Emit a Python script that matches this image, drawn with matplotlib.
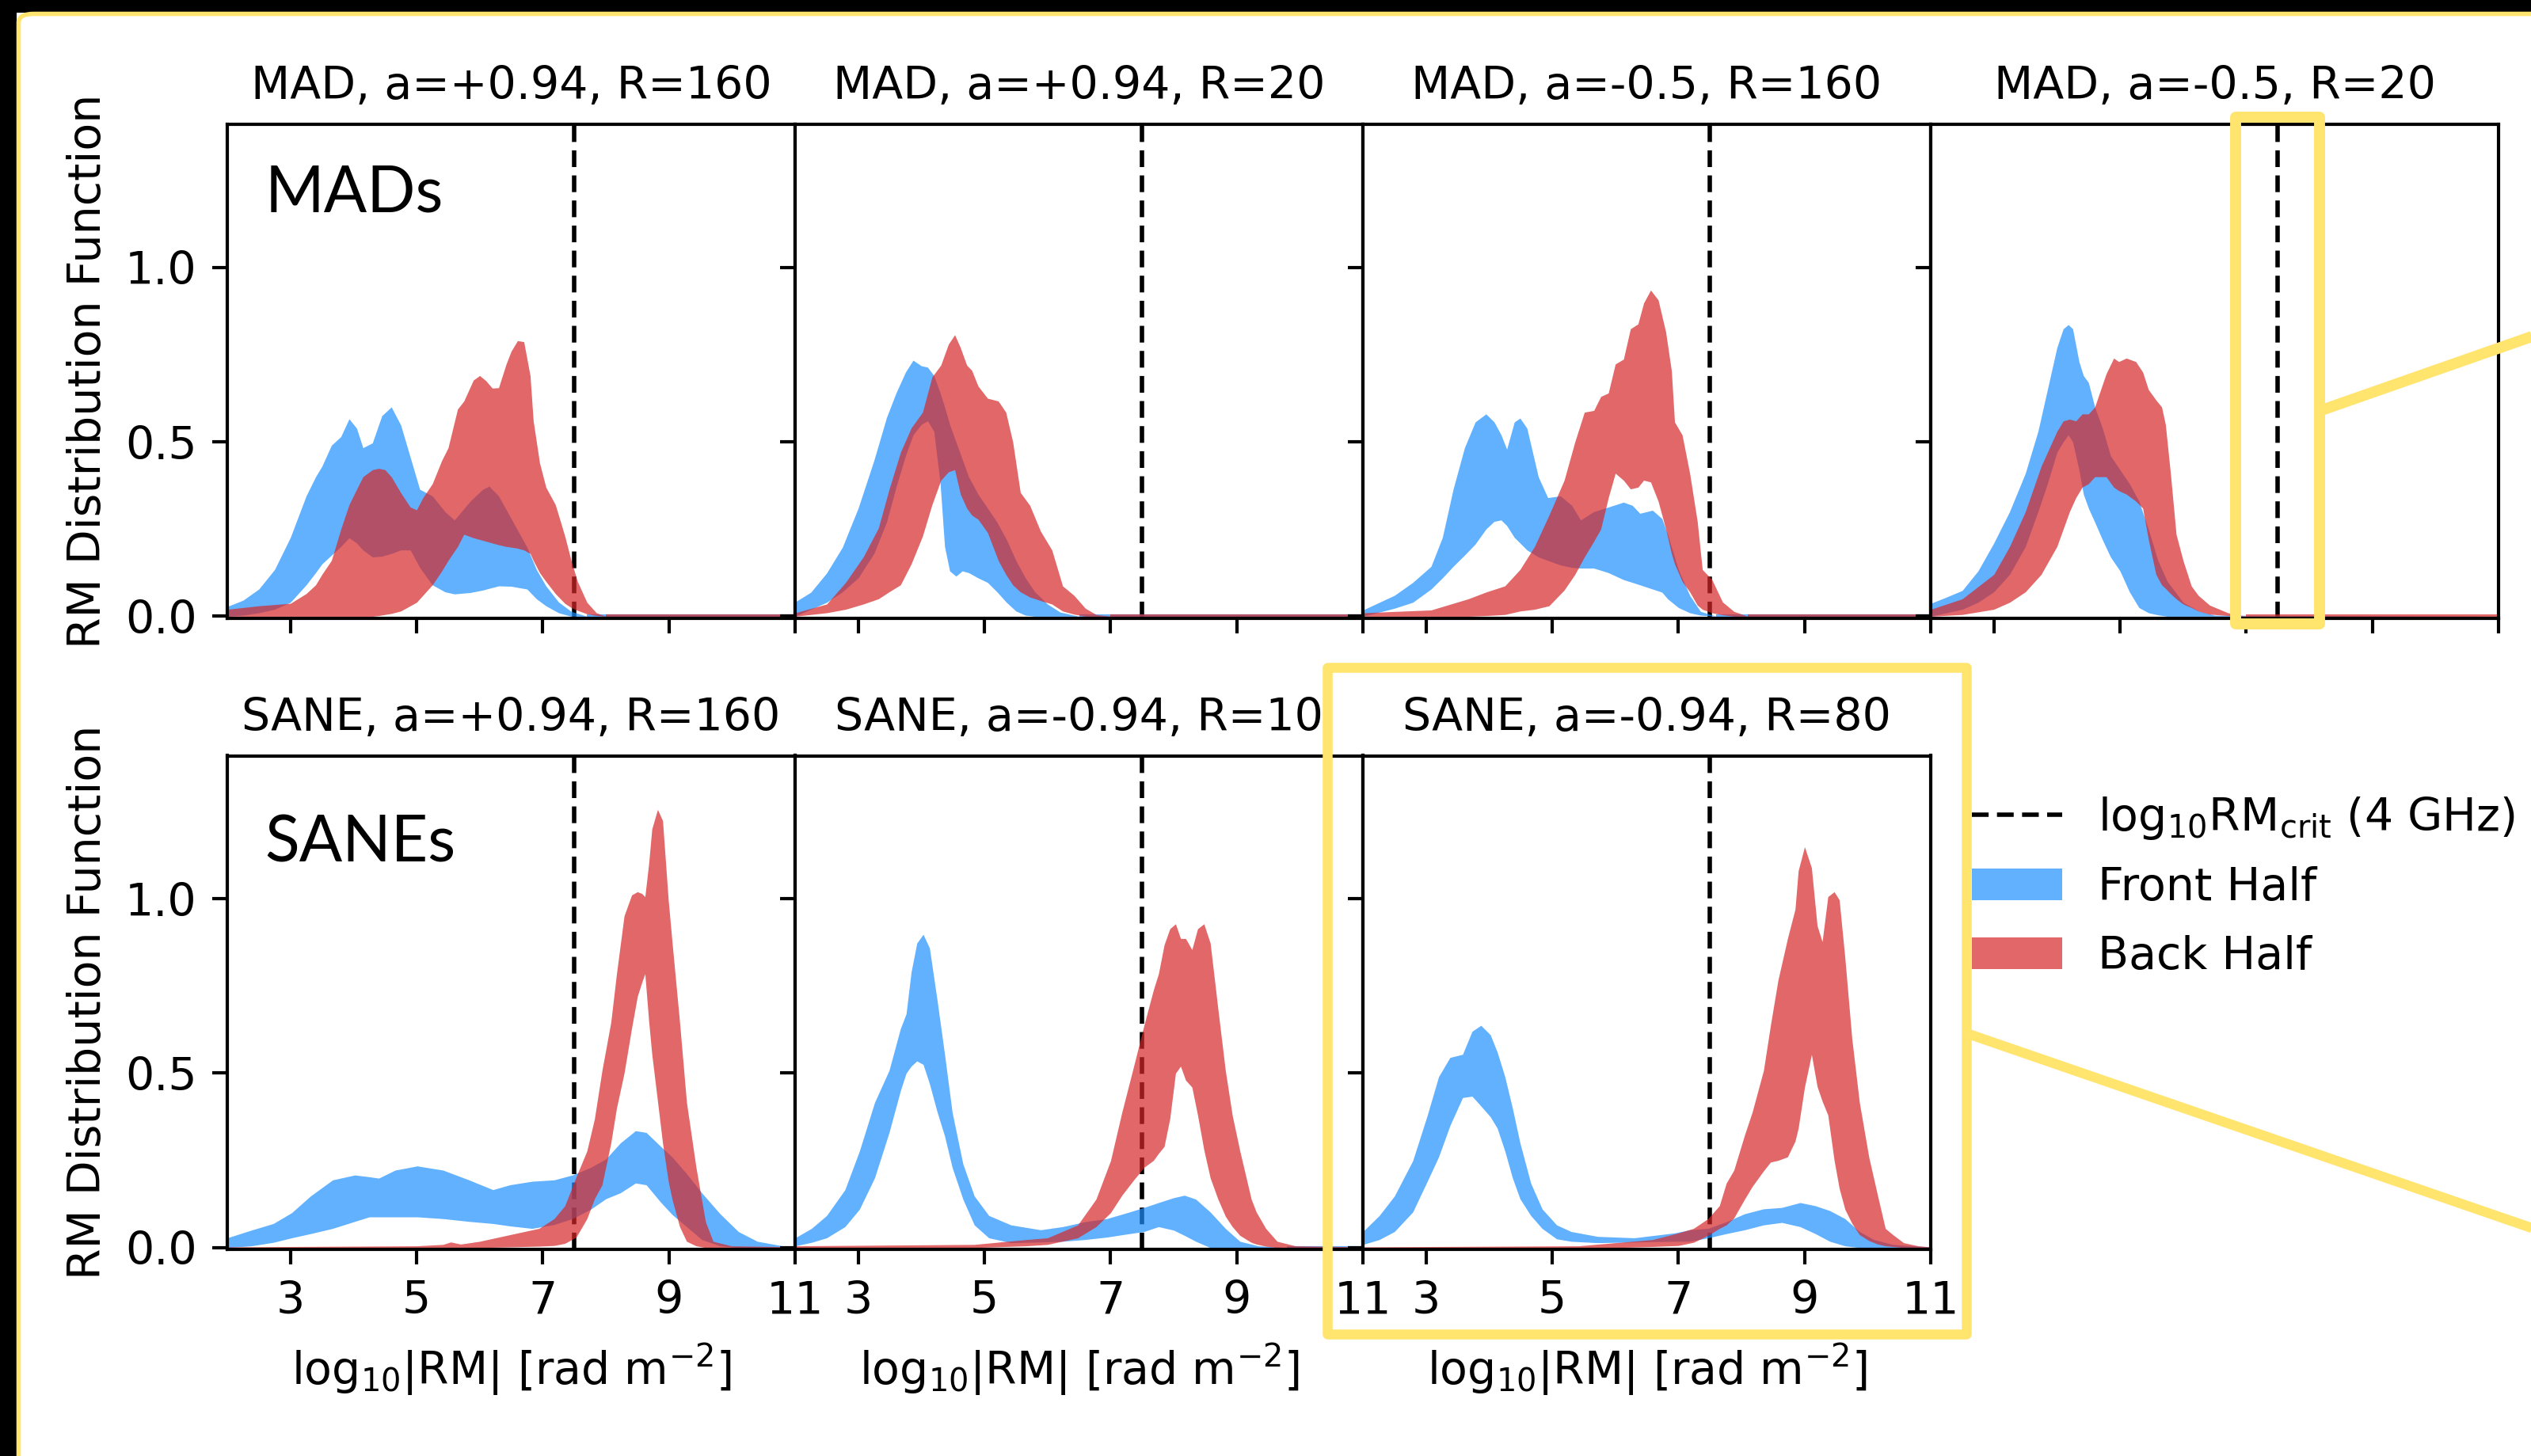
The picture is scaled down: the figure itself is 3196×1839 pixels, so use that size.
import numpy as np
import matplotlib.pyplot as plt
from matplotlib.lines import Line2D
from matplotlib.patches import Patch, Rectangle, FancyBboxPatch

plt.rcParams["font.family"] = "DejaVu Sans"
plt.rcParams["mathtext.fontset"] = "dejavusans"

# ---------------------------------------------------------------------------
# RM distribution envelopes (lower / upper bound), front half vs back half
# ---------------------------------------------------------------------------

# MAD, a=+0.94, R=160
MAD1_FRONT_X = [2.0, 2.25, 2.5, 2.75, 3.0, 3.25, 3.4, 3.5, 3.65, 3.8, 3.93, 4.05, 4.15, 4.3, 4.45, 4.6, 4.75,
                4.9, 5.05, 5.25, 5.45, 5.6, 5.85, 6.05, 6.15, 6.3, 6.5, 6.75, 6.9, 7.05, 7.25, 7.45, 7.7, 11.0]
MAD1_FRONT_HI = [0.028, 0.046, 0.078, 0.134, 0.226, 0.345, 0.40, 0.43, 0.49, 0.515, 0.566, 0.539, 0.483, 0.497,
                 0.575, 0.600, 0.548, 0.456, 0.364, 0.345, 0.300, 0.276, 0.330, 0.364, 0.373, 0.345, 0.280, 0.198,
                 0.134, 0.087, 0.041, 0.014, 0.0, 0.0]
MAD1_FRONT_LO = [0.0, 0.003, 0.01, 0.02, 0.04, 0.09, 0.125, 0.15, 0.175, 0.20, 0.225, 0.21, 0.19, 0.17, 0.172,
                 0.18, 0.19, 0.19, 0.14, 0.09, 0.07, 0.064, 0.068, 0.075, 0.08, 0.087, 0.086, 0.078, 0.05, 0.03,
                 0.01, 0.0, 0.0, 0.0]
MAD1_BACK_X = [2.0, 2.5, 3.0, 3.25, 3.4, 3.5, 3.65, 3.8, 3.93, 4.05, 4.15, 4.3, 4.4, 4.5, 4.6, 4.75, 4.9, 5.0,
               5.1, 5.25, 5.4, 5.5, 5.65, 5.75, 5.9, 6.0, 6.1, 6.2, 6.3, 6.42, 6.5, 6.6, 6.7, 6.8, 6.85, 6.95,
               7.05, 7.2, 7.35, 7.45, 7.55, 7.7, 7.85, 8.0, 11.0]
MAD1_BACK_HI = [0.02, 0.03, 0.037, 0.065, 0.09, 0.12, 0.16, 0.25, 0.32, 0.364, 0.40, 0.42, 0.424, 0.42, 0.40,
                0.354, 0.313, 0.305, 0.34, 0.38, 0.447, 0.483, 0.594, 0.617, 0.677, 0.69, 0.675, 0.654, 0.655,
                0.723, 0.76, 0.79, 0.787, 0.69, 0.56, 0.44, 0.37, 0.32, 0.23, 0.16, 0.10, 0.04, 0.01, 0.0, 0.0]
MAD1_BACK_LO = [0.0, 0.0, 0.0, 0.0, 0.0, 0.0, 0.0, 0.0, 0.0, 0.0, 0.0, 0.0, 0.002, 0.005, 0.008, 0.015, 0.03,
                0.04, 0.06, 0.09, 0.13, 0.16, 0.2, 0.235, 0.225, 0.22, 0.215, 0.21, 0.205, 0.2, 0.198, 0.195,
                0.19, 0.18, 0.16, 0.125, 0.1, 0.065, 0.037, 0.025, 0.017, 0.007, 0.002, 0.0, 0.0]

# MAD, a=+0.94, R=20
MAD2_FRONT_X = [2.0, 2.25, 2.5, 2.75, 3.0, 3.25, 3.45, 3.6, 3.75, 3.87, 4.0, 4.1, 4.2, 4.3, 4.37, 4.45, 4.55,
                4.65, 4.75, 4.9, 5.05, 5.2, 5.35, 5.5, 5.65, 5.8, 6.0, 6.2, 6.5, 11.0]
MAD2_FRONT_HI = [0.041, 0.069, 0.124, 0.198, 0.31, 0.447, 0.57, 0.64, 0.70, 0.734, 0.718, 0.714, 0.69, 0.64,
                 0.60, 0.55, 0.50, 0.45, 0.40, 0.35, 0.31, 0.27, 0.22, 0.16, 0.11, 0.07, 0.035, 0.012, 0.0, 0.0]
MAD2_FRONT_LO = [0.0, 0.02, 0.04, 0.07, 0.11, 0.18, 0.27, 0.37, 0.46, 0.52, 0.55, 0.56, 0.53, 0.38, 0.2, 0.13,
                 0.115, 0.13, 0.125, 0.11, 0.097, 0.07, 0.04, 0.015, 0.003, 0.0, 0.0, 0.0, 0.0, 0.0]
MAD2_BACK_X = [2.0, 2.5, 2.8, 3.08, 3.32, 3.49, 3.67, 3.84, 4.02, 4.17, 4.31, 4.43, 4.53, 4.62, 4.72, 4.8, 4.9,
               5.05, 5.22, 5.34, 5.45, 5.57, 5.72, 5.89, 6.07, 6.24, 6.42, 6.6, 6.77, 7.0, 11.0]
MAD2_BACK_HI = [0.01, 0.035, 0.097, 0.17, 0.253, 0.364, 0.47, 0.54, 0.585, 0.686, 0.72, 0.78, 0.807, 0.77,
                0.72, 0.705, 0.66, 0.625, 0.617, 0.585, 0.50, 0.355, 0.318, 0.244, 0.19, 0.087, 0.06, 0.023,
                0.005, 0.0, 0.0]
MAD2_BACK_LO = [0.0, 0.01, 0.02, 0.035, 0.05, 0.07, 0.09, 0.15, 0.23, 0.32, 0.39, 0.414, 0.42, 0.35, 0.31, 0.29,
                0.278, 0.24, 0.16, 0.12, 0.09, 0.07, 0.055, 0.045, 0.035, 0.015, 0.006, 0.0, 0.0, 0.0, 0.0]

# MAD, a=-0.5, R=160
MAD3_FRONT_X = [2.0, 2.5, 2.79, 3.08, 3.26, 3.43, 3.61, 3.78, 3.95, 4.08, 4.19, 4.28, 4.4, 4.49, 4.6, 4.78,
                4.93, 5.13, 5.31, 5.45, 5.66, 5.89, 6.13, 6.27, 6.39, 6.59, 6.74, 6.83, 7.0, 7.18, 7.35, 7.6, 11.0]
MAD3_FRONT_HI = [0.018, 0.06, 0.097, 0.143, 0.226, 0.364, 0.483, 0.557, 0.58, 0.557, 0.52, 0.479, 0.557, 0.568,
                 0.539, 0.40, 0.34, 0.345, 0.318, 0.276, 0.30, 0.313, 0.327, 0.318, 0.295, 0.304, 0.28, 0.235,
                 0.134, 0.06, 0.014, 0.0, 0.0]
MAD3_FRONT_LO = [0.0, 0.023, 0.04, 0.078, 0.11, 0.143, 0.175, 0.207, 0.25, 0.272, 0.276, 0.26, 0.226, 0.21,
                 0.19, 0.17, 0.16, 0.147, 0.14, 0.138, 0.138, 0.125, 0.105, 0.097, 0.09, 0.078, 0.069, 0.05,
                 0.025, 0.01, 0.003, 0.0, 0.0]
MAD3_BACK_X = [2.0, 3.08, 3.67, 3.96, 4.25, 4.49, 4.72, 4.95, 5.19, 5.36, 5.51, 5.66, 5.77, 5.89, 6.0, 6.13,
               6.24, 6.36, 6.45, 6.56, 6.68, 6.8, 6.89, 6.94, 7.06, 7.18, 7.3, 7.38, 7.53, 7.7, 7.88, 8.1, 11.0]
MAD3_BACK_HI = [0.01, 0.018, 0.05, 0.07, 0.087, 0.134, 0.2, 0.29, 0.39, 0.50, 0.585, 0.59, 0.63, 0.64, 0.723,
                0.737, 0.824, 0.838, 0.898, 0.935, 0.907, 0.815, 0.704, 0.557, 0.52, 0.41, 0.272, 0.134, 0.106,
                0.041, 0.014, 0.0, 0.0]
MAD3_BACK_LO = [0.0, 0.0, 0.0, 0.002, 0.005, 0.015, 0.02, 0.03, 0.075, 0.12, 0.17, 0.215, 0.25, 0.34, 0.41,
                0.39, 0.365, 0.37, 0.39, 0.385, 0.33, 0.25, 0.18, 0.15, 0.1, 0.07, 0.032, 0.02, 0.01, 0.004,
                0.0, 0.0, 0.0]

# MAD, a=-0.5, R=20
MAD4_FRONT_X = [2.0, 2.25, 2.5, 2.75, 3.0, 3.25, 3.5, 3.7, 3.85, 4.0, 4.1, 4.18, 4.25, 4.35, 4.42, 4.5, 4.6,
                4.72, 4.85, 5.0, 5.15, 5.3, 5.45, 5.6, 5.75, 6.0, 6.25, 6.5, 11.0]
MAD4_FRONT_HI = [0.037, 0.055, 0.074, 0.13, 0.21, 0.30, 0.41, 0.53, 0.65, 0.77, 0.824, 0.836, 0.824, 0.73,
                 0.69, 0.67, 0.60, 0.54, 0.46, 0.42, 0.38, 0.33, 0.25, 0.16, 0.10, 0.04, 0.015, 0.003, 0.0]
MAD4_FRONT_LO = [0.0, 0.01, 0.02, 0.04, 0.07, 0.12, 0.2, 0.3, 0.38, 0.47, 0.5, 0.52, 0.5, 0.42, 0.35, 0.31,
                 0.27, 0.22, 0.17, 0.13, 0.07, 0.025, 0.01, 0.004, 0.0, 0.0, 0.0, 0.0, 0.0]
MAD4_BACK_X = [2.0, 2.5, 3.0, 3.25, 3.5, 3.75, 4.0, 4.1, 4.2, 4.3, 4.4, 4.5, 4.6, 4.78, 4.9, 4.98, 5.1, 5.25,
               5.36, 5.45, 5.57, 5.66, 5.72, 5.8, 5.89, 6.0, 6.13, 6.24, 6.42, 6.71, 7.0, 11.0]
MAD4_BACK_HI = [0.02, 0.05, 0.12, 0.2, 0.3, 0.43, 0.53, 0.56, 0.565, 0.56, 0.58, 0.58, 0.6, 0.695, 0.74, 0.73,
                0.74, 0.73, 0.70, 0.65, 0.62, 0.60, 0.55, 0.41, 0.235, 0.16, 0.087, 0.06, 0.032, 0.01, 0.0, 0.0]
MAD4_BACK_LO = [0.0, 0.005, 0.02, 0.04, 0.07, 0.12, 0.2, 0.25, 0.3, 0.34, 0.37, 0.38, 0.40, 0.40, 0.37, 0.36,
                0.35, 0.33, 0.31, 0.22, 0.12, 0.09, 0.08, 0.065, 0.05, 0.035, 0.025, 0.015, 0.006, 0.002, 0.0,
                0.0]

# SANE, a=+0.94, R=160
SANE1_FRONT_X = [2.0, 2.38, 2.73, 3.02, 3.32, 3.67, 4.02, 4.25, 4.4, 4.66, 5.01, 5.42, 5.83, 6.21, 6.48, 6.83,
                 7.18, 7.47, 7.76, 8.0, 8.23, 8.47, 8.64, 8.87, 9.05, 9.28, 9.52, 9.81, 10.1, 10.4, 10.8, 11.0]
SANE1_FRONT_HI = [0.028, 0.05, 0.069, 0.10, 0.148, 0.194, 0.208, 0.203, 0.199, 0.222, 0.234, 0.222, 0.194,
                  0.166, 0.18, 0.19, 0.194, 0.208, 0.23, 0.254, 0.30, 0.335, 0.33, 0.29, 0.26, 0.212, 0.157,
                  0.097, 0.046, 0.018, 0.005, 0.004]
SANE1_FRONT_LO = [0.0, 0.005, 0.015, 0.028, 0.04, 0.055, 0.075, 0.088, 0.088, 0.088, 0.088, 0.083, 0.075,
                  0.069, 0.062, 0.055, 0.066, 0.083, 0.11, 0.14, 0.157, 0.185, 0.18, 0.13, 0.095, 0.06, 0.023,
                  0.005, 0.0, 0.0, 0.0, 0.0]
SANE1_BACK_X = [2.0, 5.0, 5.42, 5.54, 5.7, 6.0, 6.48, 6.94, 7.18, 7.35, 7.53, 7.7, 7.82, 7.94, 8.08, 8.17,
                8.29, 8.41, 8.5, 8.57, 8.62, 8.68, 8.73, 8.82, 8.9, 8.99, 9.05, 9.17, 9.28, 9.43, 9.58, 9.7,
                9.99, 11.0]
SANE1_BACK_HI = [0.002, 0.005, 0.009, 0.016, 0.01, 0.018, 0.037, 0.055, 0.083, 0.12, 0.203, 0.277, 0.369,
                 0.508, 0.646, 0.785, 0.951, 1.011, 1.02, 1.015, 1.006, 1.1, 1.2, 1.256, 1.224, 0.997, 0.877,
                 0.646, 0.416, 0.23, 0.074, 0.018, 0.005, 0.002]
SANE1_BACK_LO = [0.0, 0.0, 0.0, 0.0, 0.0, 0.0, 0.002, 0.004, 0.006, 0.012, 0.03, 0.083, 0.14, 0.18, 0.3, 0.4,
                 0.5, 0.63, 0.72, 0.76, 0.785, 0.65, 0.554, 0.42, 0.3, 0.19, 0.139, 0.06, 0.018, 0.005, 0.0,
                 0.0, 0.0, 0.0]

# SANE, a=-0.94, R=10
SANE2_FRONT_X = [2.0, 2.26, 2.5, 2.79, 3.02, 3.26, 3.49, 3.67, 3.76, 3.84, 3.93, 4.03, 4.13, 4.25, 4.37, 4.49,
                 4.66, 4.84, 5.07, 5.42, 5.89, 6.24, 6.59, 6.94, 7.3, 7.53, 7.76, 8.0, 8.17, 8.35, 8.58, 8.82,
                 9.05, 9.34, 9.8, 11.0]
SANE2_FRONT_HI = [0.028, 0.055, 0.092, 0.166, 0.277, 0.416, 0.508, 0.628, 0.67, 0.79, 0.873, 0.898, 0.859,
                  0.711, 0.554, 0.388, 0.24, 0.148, 0.092, 0.065, 0.051, 0.06, 0.074, 0.083, 0.102, 0.115,
                  0.129, 0.143, 0.15, 0.139, 0.102, 0.055, 0.018, 0.005, 0.0, 0.0]
SANE2_FRONT_LO = [0.005, 0.015, 0.028, 0.06, 0.11, 0.2, 0.33, 0.45, 0.5, 0.52, 0.535, 0.525, 0.47, 0.39, 0.32,
                  0.23, 0.139, 0.065, 0.028, 0.014, 0.016, 0.018, 0.023, 0.03, 0.04, 0.046, 0.06, 0.05, 0.035,
                  0.018, 0.0, 0.0, 0.0, 0.0, 0.0, 0.0]
SANE2_BACK_X = [2.0, 4.84, 5.66, 6.0, 6.48, 6.77, 7.0, 7.18, 7.35, 7.53, 7.68, 7.76, 7.85, 7.94, 8.03, 8.11,
                8.19, 8.29, 8.38, 8.48, 8.58, 8.7, 8.82, 8.93, 9.05, 9.23, 9.31, 9.46, 9.64, 9.93, 11.0]
SANE2_BACK_HI = [0.005, 0.009, 0.023, 0.028, 0.065, 0.139, 0.249, 0.388, 0.508, 0.637, 0.739, 0.785, 0.868,
                 0.914, 0.928, 0.886, 0.886, 0.854, 0.914, 0.928, 0.873, 0.688, 0.508, 0.379, 0.277, 0.139,
                 0.102, 0.055, 0.018, 0.005, 0.002]
SANE2_BACK_LO = [0.0, 0.0, 0.005, 0.009, 0.028, 0.06, 0.1, 0.15, 0.19, 0.23, 0.25, 0.27, 0.29, 0.37, 0.5,
                 0.52, 0.48, 0.46, 0.38, 0.28, 0.2, 0.14, 0.09, 0.06, 0.035, 0.015, 0.01, 0.004, 0.0, 0.0, 0.0]

# SANE, a=-0.94, R=80
SANE3_FRONT_X = [2.0, 2.26, 2.5, 2.79, 3.02, 3.2, 3.38, 3.58, 3.73, 3.87, 4.02, 4.13, 4.25, 4.37, 4.49, 4.66,
                 4.84, 5.07, 5.3, 5.72, 6.3, 6.94, 7.18, 7.47, 7.76, 8.05, 8.35, 8.64, 8.93, 9.17, 9.4, 9.64,
                 9.87, 10.1, 10.4, 10.7, 11.0]
SANE3_FRONT_HI = [0.046, 0.092, 0.148, 0.249, 0.379, 0.49, 0.545, 0.554, 0.62, 0.637, 0.61, 0.56, 0.49, 0.40,
                  0.30, 0.185, 0.111, 0.065, 0.046, 0.032, 0.028, 0.042, 0.051, 0.055, 0.074, 0.097, 0.111,
                  0.115, 0.129, 0.12, 0.106, 0.083, 0.046, 0.023, 0.009, 0.005, 0.002]
SANE3_FRONT_LO = [0.009, 0.023, 0.046, 0.102, 0.19, 0.26, 0.35, 0.43, 0.434, 0.406, 0.375, 0.342, 0.277, 0.2,
                  0.14, 0.092, 0.055, 0.025, 0.018, 0.014, 0.016, 0.018, 0.018, 0.028, 0.04, 0.051, 0.065,
                  0.072, 0.06, 0.04, 0.018, 0.005, 0.0, 0.0, 0.0, 0.0, 0.0]
SANE3_BACK_X = [2.0, 5.42, 6.0, 6.59, 7.0, 7.24, 7.47, 7.65, 7.76, 7.88, 8.05, 8.17, 8.35, 8.46, 8.58, 8.73,
                8.85, 8.9, 9.0, 9.11, 9.2, 9.28, 9.37, 9.47, 9.55, 9.64, 9.75, 9.87, 10.02, 10.16, 10.28, 10.4,
                10.57, 10.8, 11.0]
SANE3_BACK_HI = [0.002, 0.005, 0.014, 0.023, 0.042, 0.055, 0.083, 0.12, 0.185, 0.222, 0.323, 0.388, 0.508,
                 0.637, 0.767, 0.886, 0.97, 1.08, 1.149, 1.089, 0.923, 0.877, 1.006, 1.02, 0.997, 0.831, 0.6,
                 0.416, 0.259, 0.148, 0.055, 0.037, 0.014, 0.005, 0.002]
SANE3_BACK_LO = [0.0, 0.0, 0.0, 0.003, 0.006, 0.015, 0.035, 0.055, 0.065, 0.085, 0.139, 0.175, 0.22, 0.245,
                 0.25, 0.26, 0.305, 0.342, 0.46, 0.554, 0.462, 0.42, 0.38, 0.25, 0.17, 0.11, 0.07, 0.037, 0.02,
                 0.01, 0.005, 0.003, 0.0, 0.0, 0.0]

TOP_TITLES = ["MAD, a=+0.94, R=160", "MAD, a=+0.94, R=20", "MAD, a=-0.5, R=160", "MAD, a=-0.5, R=20"]
BOTTOM_TITLES = ["SANE, a=+0.94, R=160", "SANE, a=-0.94, R=10", "SANE, a=-0.94, R=80"]
ROW_LABELS = ["MADs", "SANEs"]
XTICKS = [3, 5, 7, 9, 11]
YTICKS = [0.0, 0.5, 1.0]
RM_CRIT = 7.5

TOP_PANELS = [
    (MAD1_FRONT_X, MAD1_FRONT_LO, MAD1_FRONT_HI, MAD1_BACK_X, MAD1_BACK_LO, MAD1_BACK_HI),
    (MAD2_FRONT_X, MAD2_FRONT_LO, MAD2_FRONT_HI, MAD2_BACK_X, MAD2_BACK_LO, MAD2_BACK_HI),
    (MAD3_FRONT_X, MAD3_FRONT_LO, MAD3_FRONT_HI, MAD3_BACK_X, MAD3_BACK_LO, MAD3_BACK_HI),
    (MAD4_FRONT_X, MAD4_FRONT_LO, MAD4_FRONT_HI, MAD4_BACK_X, MAD4_BACK_LO, MAD4_BACK_HI),
]
BOTTOM_PANELS = [
    (SANE1_FRONT_X, SANE1_FRONT_LO, SANE1_FRONT_HI, SANE1_BACK_X, SANE1_BACK_LO, SANE1_BACK_HI),
    (SANE2_FRONT_X, SANE2_FRONT_LO, SANE2_FRONT_HI, SANE2_BACK_X, SANE2_BACK_LO, SANE2_BACK_HI),
    (SANE3_FRONT_X, SANE3_FRONT_LO, SANE3_FRONT_HI, SANE3_BACK_X, SANE3_BACK_LO, SANE3_BACK_HI),
]

# ---------------------------------------------------------------------------
W, H = 3196, 1839
FRONT_COLOR = "#1E90FF"
BACK_COLOR = "#D62728"
ALPHA = 0.7
YELLOW = "#FFE46E"
FS = 41
CRIT_STYLE = dict(color="k", lw=4, ls=(0, (3.8, 1.9)))

fig = plt.figure(figsize=(W / 100, H / 100), dpi=100)
fig.patch.set_facecolor("white")

AX_LEFT, AX_W = 287 / W, 717 / W
AX_H = 623.5 / H
ROW_BOTTOMS = [1 - 780.6 / H, 1 - 1578.0 / H]


def draw_band(ax, x, lo, hi, color):
    x, lo, hi = np.asarray(x), np.asarray(lo), np.asarray(hi)
    ax.fill_between(x, lo, hi, color=color, alpha=ALPHA, lw=0, zorder=1)
    # zero-width stretches still show as a thin line
    flat = np.where(hi - lo < 1e-3, lo, np.nan)
    ax.plot(x, flat, color=color, alpha=ALPHA, lw=3, solid_capstyle="butt", zorder=1)


def make_panel(row, col, title, data):
    ax = fig.add_axes([AX_LEFT + col * AX_W, ROW_BOTTOMS[row], AX_W, AX_H])
    fx, flo, fhi, bx, blo, bhi = data
    ax.axvline(RM_CRIT, zorder=0.5, **CRIT_STYLE)
    draw_band(ax, fx, flo, fhi, FRONT_COLOR)
    draw_band(ax, bx, blo, bhi, BACK_COLOR)
    ax.set_xlim(2, 11)
    ax.set_ylim(-0.005, 1.41)
    ax.set_xticks(XTICKS)
    ax.set_yticks(YTICKS)
    ax.yaxis.set_major_formatter(plt.FormatStrFormatter("%.1f"))
    ax.tick_params(direction="out", length=13.5, width=3, labelsize=FS, pad=14)
    for sp in ax.spines.values():
        sp.set_linewidth(3)
    ax.set_title(title, fontsize=FS, pad=23)
    if col == 0:
        ax.set_ylabel("RM Distribution Function", fontsize=FS, labelpad=14)
        ax.text(0.066, 0.823 if row == 0 else 0.785, ROW_LABELS[row], transform=ax.transAxes,
                fontsize=58, family="Lato", va="baseline", ha="left")
    else:
        ax.tick_params(labelleft=False)
    if row == 0:
        ax.tick_params(labelbottom=False)
    else:
        ax.set_xlabel("log$_{10}$|RM| [rad m$^{-2}$]", fontsize=FS, labelpad=17)
    return ax


for c, (t, d) in enumerate(zip(TOP_TITLES, TOP_PANELS)):
    make_panel(0, c, t, d)
for c, (t, d) in enumerate(zip(BOTTOM_TITLES, BOTTOM_PANELS)):
    make_panel(1, c, t, d)

handles = [
    Line2D([], [], **CRIT_STYLE),
    Patch(facecolor=FRONT_COLOR, alpha=ALPHA, lw=0),
    Patch(facecolor=BACK_COLOR, alpha=ALPHA, lw=0),
]
labels = ["log$_{10}$RM$_{\\rm crit}$ (4 GHz)", "Front Half", "Back Half"]
fig.legend(handles, labels, loc="upper left", bbox_to_anchor=(2490 / W, 1 - 1004 / H),
           frameon=False, fontsize=FS, borderpad=0, borderaxespad=0, labelspacing=0.55)


# ---- highlight boxes and frame, in pixel units ----
def fx(px):
    return px / W


def fy(py):
    return 1 - py / H


def box(x0, y0, x1, y1, lw):
    fig.add_artist(Rectangle((fx(x0), fy(y1)), fx(x1) - fx(x0), fy(y0) - fy(y1),
                             transform=fig.transFigure, fill=False, ec=YELLOW, lw=lw,
                             joinstyle="round", zorder=20))


def seg(x0, y0, x1, y1, lw):
    fig.add_artist(Line2D([fx(x0), fx(x1)], [fy(y0), fy(y1)], transform=fig.transFigure,
                          color=YELLOW, lw=lw, solid_capstyle="butt", zorder=20))


box(2823, 148, 2929, 788, 10)
seg(2929, 519, 3220, 417, 10)
box(1676, 843, 2483, 1685, 9)
seg(2483, 1305, 3220, 1559, 9)

# dark surround with a yellow rim along the top and left edges
fig.add_artist(Rectangle((0, fy(16)), 1, 1 - fy(16), transform=fig.transFigure,
                         fc="black", ec="none", zorder=30))
fig.add_artist(Rectangle((0, 0), fx(21), 1, transform=fig.transFigure,
                         fc="black", ec="none", zorder=30))
fig.add_artist(FancyBboxPatch((fx(23.5), -0.1), 1.2, fy(17.5) + 0.1,
                              boxstyle="round,pad=0,rounding_size=0.006",
                              transform=fig.transFigure, fill=False, ec=YELLOW, lw=4, zorder=31))

fig.savefig("out.png", dpi=100)
